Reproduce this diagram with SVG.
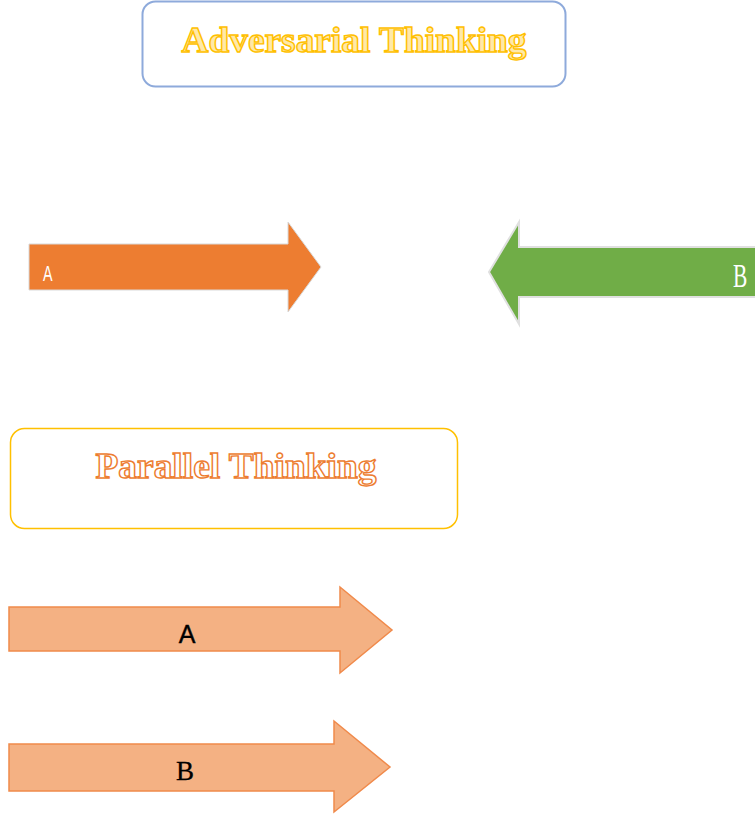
<svg xmlns="http://www.w3.org/2000/svg" width="755" height="817" viewBox="0 0 755 817">
<style>
.title{font-family:"Liberation Serif","DejaVu Serif",serif;font-weight:bold;font-size:36px;stroke-width:1.4}
.lbl{font-family:"Liberation Serif",serif}
</style>
<rect width="755" height="817" fill="#ffffff"/>
<g id="adversarial-title">
<rect x="142.5" y="1.5" width="423" height="85" rx="13" fill="#ffffff" stroke="#8eaadb" stroke-width="2"/>
<text class="title" x="354" y="52" text-anchor="middle" fill="#ffe9a8" stroke="#ffc000" textLength="345" lengthAdjust="spacingAndGlyphs">Adversarial Thinking</text>
</g>
<g id="arrow-a-orange">
<polygon points="29,244 288,244 288,222 321,267 288,312 288,290 29,290" fill="#ed7d31" stroke="#d9d9d9" stroke-width="1"/>
<text x="0" y="0" fill="#ffffff" font-family="'Liberation Sans',sans-serif" font-size="22" transform="translate(43 281) scale(0.65 1)">A</text>
</g>
<g id="arrow-b-green">
<polygon points="756,247 519,247 519,222 489,272 519,324 519,297 756,297" fill="#70ad47" stroke="#e0e0e0" stroke-width="2"/>
<text class="lbl" x="0" y="0" fill="#ffffff" font-size="33" transform="translate(733 287) scale(0.65 1)">B</text>
</g>
<g id="parallel-title">
<rect x="10.5" y="428.5" width="447" height="100" rx="14" fill="#ffffff" stroke="#ffc000" stroke-width="1.5"/>
<text class="title" x="236" y="478" text-anchor="middle" fill="#ffffff" stroke="#ed7d31" textLength="281" lengthAdjust="spacingAndGlyphs">Parallel Thinking</text>
</g>
<g id="arrow-parallel-a">
<polygon points="9,607 340,607 340,587 392,630 340,673 340,651 9,651" fill="#f4b183" stroke="#f08a4b" stroke-width="1.5"/>
<text x="187" y="643" text-anchor="middle" fill="#000000" font-family="'Liberation Sans',sans-serif" font-size="25" stroke="#000000" stroke-width="0.4">A</text>
</g>
<g id="arrow-parallel-b">
<polygon points="9,744 334,744 334,721 390,767 334,812 334,791 9,791" fill="#f4b183" stroke="#f08a4b" stroke-width="1.5"/>
<text class="lbl" x="185" y="780" text-anchor="middle" fill="#000000" font-size="27" stroke="#000000" stroke-width="0.3">B</text>
</g>
</svg>
